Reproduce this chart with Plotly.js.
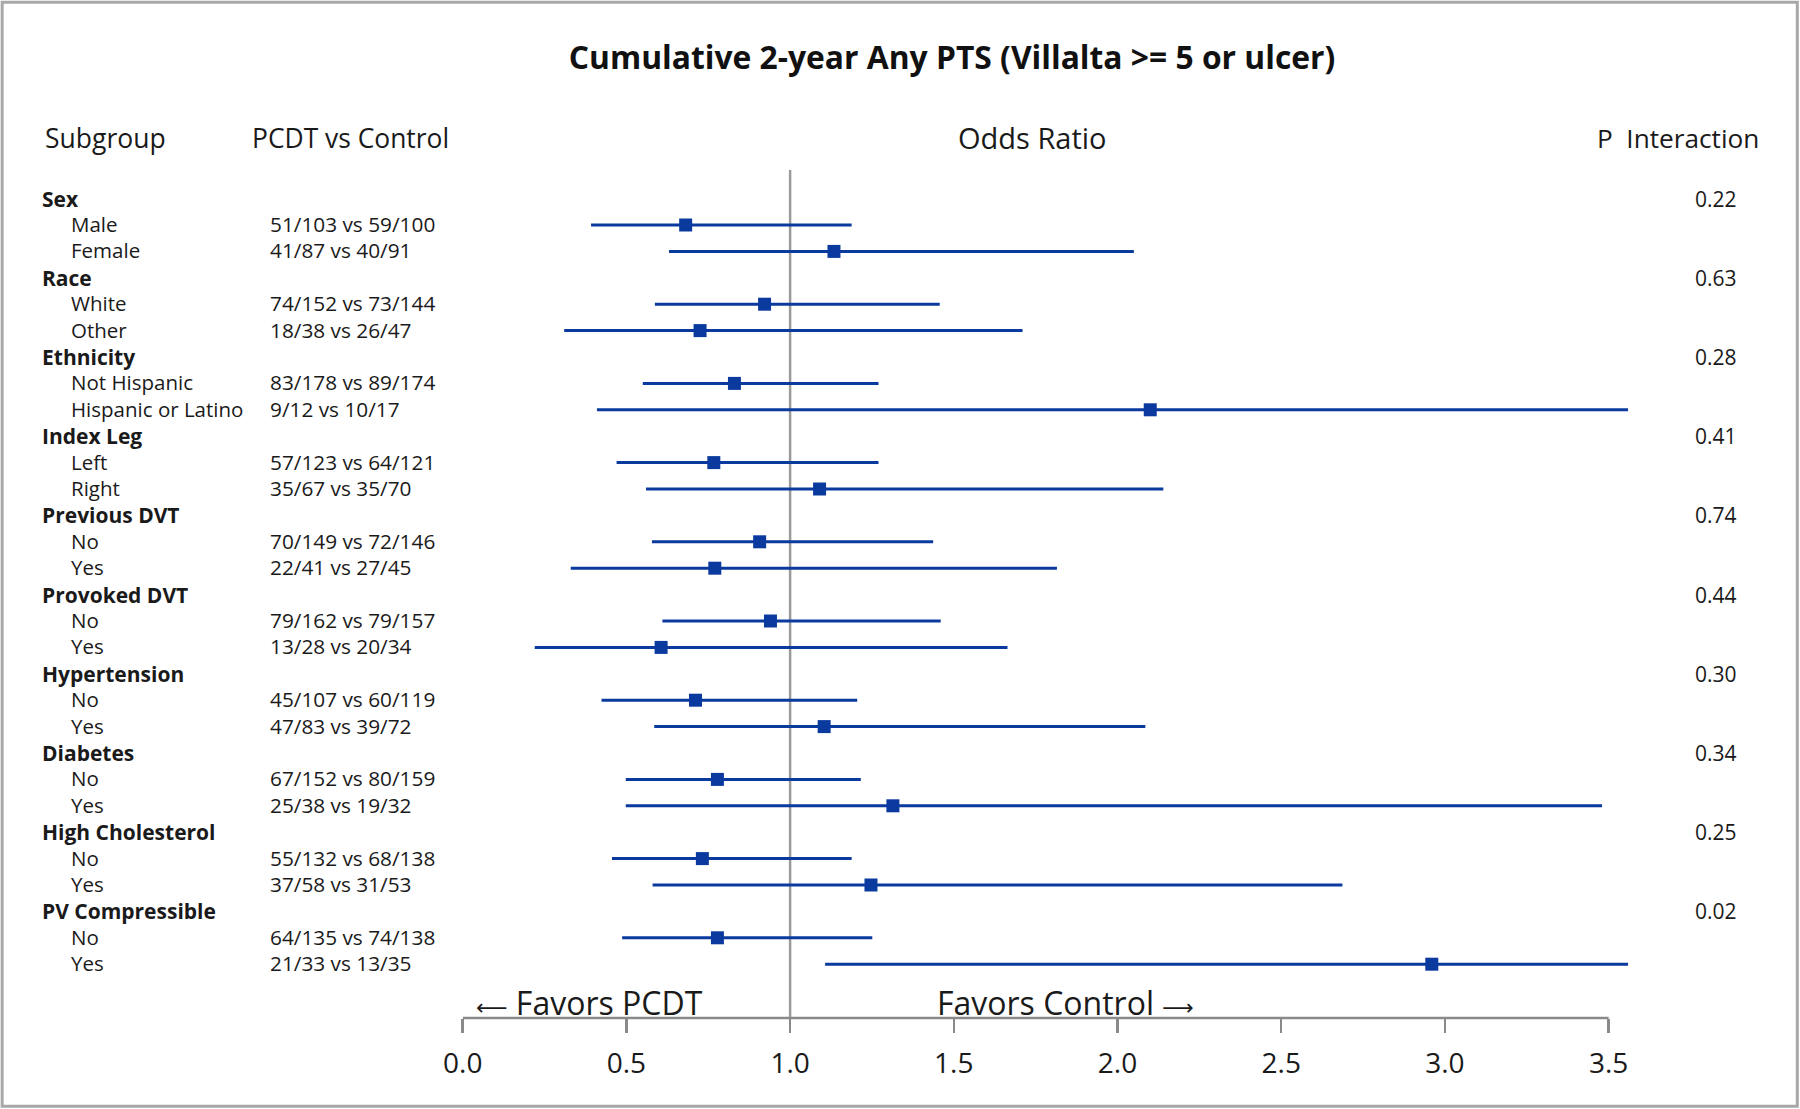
<!DOCTYPE html>
<html>
<head>
<meta charset="utf-8">
<script src="https://cdn.plot.ly/plotly-3.0.1.min.js"></script>
<style>
html,body{margin:0;padding:0;background:#fff;}
#chart{width:1800px;height:1109px;}
</style>
</head>
<body>
<div id="chart"></div>
<script>
// ---------------- DATA ----------------
const groupNames = ['Sex','Race','Ethnicity','Index Leg','Previous DVT','Provoked DVT','Hypertension','Diabetes','High Cholesterol','PV Compressible'];
const levelNames = ['Male','Female','White','Other','Not Hispanic','Hispanic or Latino','Left','Right','No','Yes','No','Yes','No','Yes','No','Yes','No','Yes','No','Yes'];
const counts = ['51/103 vs 59/100','41/87 vs 40/91','74/152 vs 73/144','18/38 vs 26/47','83/178 vs 89/174','9/12 vs 10/17','57/123 vs 64/121','35/67 vs 35/70','70/149 vs 72/146','22/41 vs 27/45','79/162 vs 79/157','13/28 vs 20/34','45/107 vs 60/119','47/83 vs 39/72','67/152 vs 80/159','25/38 vs 19/32','55/132 vs 68/138','37/58 vs 31/53','64/135 vs 74/138','21/33 vs 13/35'];
const oddsRatio = [0.681,1.134,0.922,0.725,0.83,2.10,0.767,1.09,0.907,0.77,0.94,0.606,0.711,1.104,0.778,1.314,0.732,1.247,0.778,2.96];
const ciLower  = [0.392,0.630,0.587,0.31,0.55,0.41,0.47,0.56,0.578,0.33,0.61,0.22,0.424,0.585,0.498,0.498,0.456,0.58,0.487,1.107];
const ciUpper  = [1.188,2.05,1.457,1.71,1.27,3.56,1.27,2.14,1.437,1.815,1.46,1.664,1.205,2.085,1.216,3.48,1.188,2.687,1.251,3.56];
const pInteraction = ['0.22','0.63','0.28','0.41','0.74','0.44','0.30','0.34','0.25','0.02'];
const tickValues = [0,0.5,1,1.5,2,2.5,3,3.5];
const tickLabels = ['0.0','0.5','1.0','1.5','2.0','2.5','3.0','3.5'];

// ---------------- LAYOUT HELPERS ----------------
const W = 1800, H = 1109;
const FONT = 'Open Sans, Noto Sans, sans-serif';
const TXT = '#1a1a1a';
const BLUE = '#0b3a9f';
const px2py = p => 1 - p / H;     // pixel y -> paper y
const px2px = p => p / W;         // pixel x -> paper x

const levelRow = levelNames.map((_, i) => Math.floor(i / 2) * 3 + 1 + (i % 2));
const headerRow = groupNames.map((_, g) => g * 3);

const base = {showarrow:false, borderpad:0};
const annotations = [];
groupNames.forEach((name, g) => {
  annotations.push(Object.assign({xref:'paper', yref:'y', x:px2px(40.5), y:headerRow[g], xanchor:'left', yanchor:'middle',
    text:'<b>'+name+'</b>', font:{family:FONT, size:21, color:TXT}}, base));
  annotations.push(Object.assign({xref:'paper', yref:'y', x:px2px(1716), y:headerRow[g], xanchor:'center', yanchor:'middle',
    text:pInteraction[g], font:{family:FONT, size:21, color:TXT}}, base));
});
levelNames.forEach((name, i) => {
  annotations.push(Object.assign({xref:'paper', yref:'y', x:px2px(69.5), y:levelRow[i] - 0.04, xanchor:'left', yanchor:'middle',
    text:name, font:{family:FONT, size:20.5, color:TXT}}, base));
  annotations.push(Object.assign({xref:'paper', yref:'y', x:px2px(268.5), y:levelRow[i] - 0.04, xanchor:'left', yanchor:'middle',
    text:counts[i], font:{family:FONT, size:20.8, color:TXT}}, base));
});
// column headers
annotations.push(Object.assign({xref:'paper', yref:'paper', x:px2px(44), y:px2py(138), xanchor:'left', yanchor:'middle', text:'Subgroup', font:{family:FONT, size:26.5, color:TXT}}, base));
annotations.push(Object.assign({xref:'paper', yref:'paper', x:px2px(251), y:px2py(138), xanchor:'left', yanchor:'middle', text:'PCDT vs Control', font:{family:FONT, size:26.4, color:TXT}}, base));
annotations.push(Object.assign({xref:'paper', yref:'paper', x:px2px(1032), y:px2py(137), xanchor:'center', yanchor:'middle', text:'Odds Ratio', font:{family:FONT, size:29, color:TXT}}, base));
annotations.push(Object.assign({xref:'paper', yref:'paper', x:px2px(1596), y:px2py(138), xanchor:'left', yanchor:'middle', text:'P\u00a0 Interaction', font:{family:FONT, size:26.2, color:TXT}}, base));
// favors labels
annotations.push(Object.assign({xref:'paper', yref:'paper', x:px2px(475), y:px2py(1002), xanchor:'left', yanchor:'middle',
  text:'<span style="font-family:DejaVu Sans;font-size:22px">\u27F5</span> Favors PCDT', font:{family:FONT, size:32, color:TXT}}, base));
annotations.push(Object.assign({xref:'paper', yref:'paper', x:px2px(936), y:px2py(1002), xanchor:'left', yanchor:'middle',
  text:'Favors Control <span style="font-family:DejaVu Sans;font-size:22px">\u27F6</span>', font:{family:FONT, size:32, color:TXT}}, base));

const axisY = px2py(1018);
const shapes = [
  {type:'line', xref:'x', yref:'paper', x0:1, x1:1, y0:axisY, y1:px2py(170), line:{color:'#9a9a9a', width:2.5}, layer:'below'},
  {type:'line', xref:'x', yref:'paper', x0:tickValues[0], x1:tickValues[tickValues.length-1], y0:axisY, y1:axisY, line:{color:'#8a8a8a', width:2.5}},
  {type:'rect', xref:'paper', yref:'paper', x0:0.0012, x1:0.9985, y0:0.0025, y1:0.998, line:{color:'#a8a8a8', width:3}}
];

const trace = {
  type:'scatter', mode:'markers',
  x: oddsRatio, y: levelRow,
  marker:{symbol:'square', size:13, color:BLUE},
  error_x:{type:'data', symmetric:false,
    array: oddsRatio.map((v, i) => ciUpper[i] - v),
    arrayminus: oddsRatio.map((v, i) => v - ciLower[i]),
    color:BLUE, thickness:3, width:0},
  hoverinfo:'skip', cliponaxis:true
};

const xMax = 3.56;
const x0px = 462.7, unitPx = 327.4;
const layout = {
  width:W, height:H,
  margin:{l:0, r:0, t:0, b:0, pad:0},
  paper_bgcolor:'#fff', plot_bgcolor:'rgba(0,0,0,0)',
  showlegend:false,
  title:{text:'<b>Cumulative 2-year Any PTS (Villalta >= 5 or ulcer)</b>', x:px2px(952), xanchor:'center', xref:'paper',
         y:px2py(58), yanchor:'middle', yref:'container', font:{family:FONT, size:31.8, color:'#111'}},
  xaxis:{range:[0, xMax], domain:[px2px(x0px), px2px(x0px + xMax*unitPx)],
    anchor:'free', position:axisY,
    tickmode:'array', tickvals:tickValues, ticktext:tickLabels,
    ticks:'outside', ticklen:14, tickwidth:2.5, tickcolor:'#8a8a8a',
    showline:false, showgrid:false, zeroline:false,
    tickfont:{family:FONT, size:28, color:TXT}, ticklabelstandoff:6, fixedrange:true},
  yaxis:{range:[34.485, -7.523], domain:[0,1], visible:false, fixedrange:true},
  annotations, shapes
};

Plotly.newPlot('chart', [trace], layout, {staticPlot:true, displayModeBar:false});
</script>
</body>
</html>
